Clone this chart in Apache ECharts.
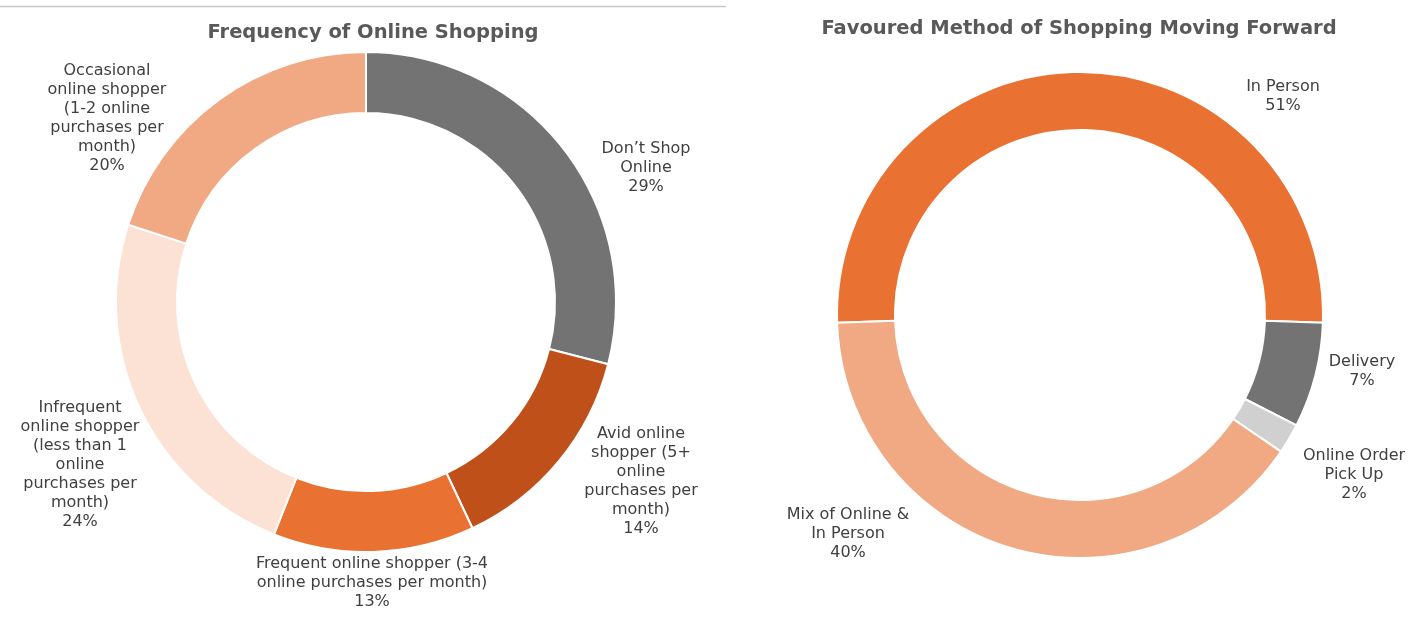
<!DOCTYPE html>
<html>
<head>
<meta charset="utf-8">
<title>Online Shopping Survey</title>
<script src="https://cdn.jsdelivr.net/npm/echarts@6/dist/echarts.min.js"></script>
<style>
  html, body { margin: 0; padding: 0; background: #ffffff; }
  #chart { width: 1424px; height: 626px; }
</style>
</head>
<body>
<div id="chart"></div>
<script>
// Survey results: how often people shop online
const frequencyCategories = [
  "Don\u2019t Shop\nOnline",
  "Avid online\nshopper (5+\nonline\npurchases per\nmonth)",
  "Frequent online shopper (3-4\nonline purchases per month)",
  "Infrequent\nonline shopper\n(less than 1\nonline\npurchases per\nmonth)",
  "Occasional\nonline shopper\n(1-2 online\npurchases per\nmonth)"
];
const frequencyValues = [29, 14, 13, 24, 20];

// Survey results: preferred way of shopping from now on
const methodCategories = [
  "In Person",
  "Delivery",
  "Online Order\nPick Up",
  "Mix of Online &\nIn Person"
];
const methodValues = [51, 7, 2, 40];

// Slice colours
const frequencyColors = ['#737373', '#c0501a', '#e97132', '#fbe2d5', '#f1a983'];
const methodColors = ['#e97132', '#737373', '#d0d0d0', '#f1a983'];

// Where each label block sits (centre of the text block, in px)
const frequencyLabelAnchors = [[646, 168], [641, 481], [372, 583], [80, 465], [107, 118]];
const methodLabelAnchors = [[1283, 96], [1362, 371], [1354, 475], [848, 534]];

function toItems(names, values, colors) {
  return names.map((n, i) => ({ name: n, value: values[i], itemStyle: { color: colors[i] } }));
}

const labelStyle = {
  show: true,
  position: 'outside',
  formatter: p => p.name + '\n' + p.value + '%',
  fontFamily: 'DejaVu Sans',
  fontSize: 16,
  lineHeight: 19,
  color: '#404040',
  align: 'center'
};

function anchoredLayout(anchors) {
  return params => ({
    x: anchors[params.dataIndex][0],
    y: anchors[params.dataIndex][1],
    align: 'center',
    verticalAlign: 'middle'
  });
}

const chart = echarts.init(document.getElementById('chart'), null, { renderer: 'canvas' });

chart.setOption({
  backgroundColor: '#ffffff',
  animation: false,
  title: [
    {
      text: 'Frequency of Online Shopping',
      left: 368, top: 18, textAlign: 'center',
      textStyle: { fontFamily: 'DejaVu Sans', fontWeight: 'bold', fontSize: 19.5, color: '#595959' }
    },
    {
      text: 'Favoured Method of Shopping Moving Forward',
      left: 1074, top: 14, textAlign: 'center',
      textStyle: { fontFamily: 'DejaVu Sans', fontWeight: 'bold', fontSize: 19.5, color: '#595959' }
    }
  ],
  graphic: [
    {
      type: 'line',
      shape: { x1: 0, y1: 6.5, x2: 726, y2: 6.5 },
      style: { stroke: '#c8c8c8', lineWidth: 1.5 },
      silent: true
    }
  ],
  series: [
    {
      type: 'pie',
      center: [366, 302],
      radius: [189, 250],
      startAngle: 90,
      clockwise: true,
      avoidLabelOverlap: false,
      itemStyle: { borderColor: '#ffffff', borderWidth: 2 },
      label: labelStyle,
      labelLine: { show: false },
      labelLayout: anchoredLayout(frequencyLabelAnchors),
      emphasis: { disabled: true },
      data: toItems(frequencyCategories, frequencyValues, frequencyColors)
    },
    {
      type: 'pie',
      center: [1080, 315],
      radius: [185, 243],
      startAngle: 181.8,
      clockwise: true,
      avoidLabelOverlap: false,
      itemStyle: { borderColor: '#ffffff', borderWidth: 2 },
      label: labelStyle,
      labelLine: { show: false },
      labelLayout: anchoredLayout(methodLabelAnchors),
      emphasis: { disabled: true },
      data: toItems(methodCategories, methodValues, methodColors)
    }
  ]
});
</script>
</body>
</html>
